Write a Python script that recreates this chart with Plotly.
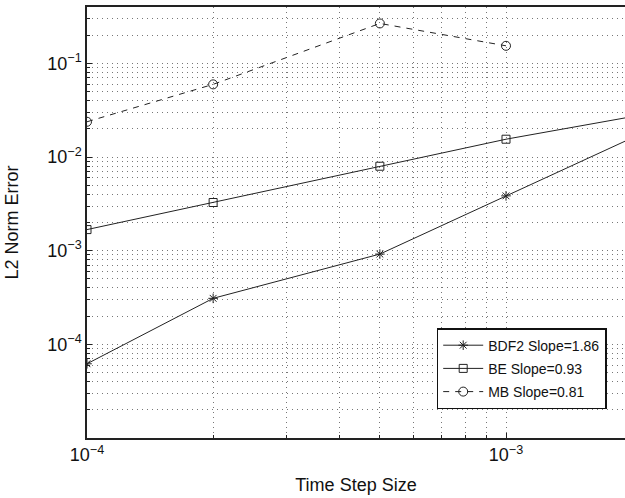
import numpy as np
import plotly.graph_objects as go

step = [1e-4, 2e-4, 5e-4, 1e-3, 2e-3]
bdf2 = [6.2e-5, 3.1e-4, 9.2e-4, 3.85e-3, 1.6e-2]
be = [1.68e-3, 3.27e-3, 7.98e-3, 1.55e-2, 2.7e-2]
mb_step = [1e-4, 2e-4, 5e-4, 1e-3]
mb = [2.38e-2, 5.97e-2, 0.267, 0.154]

x_major = [1e-4, 1e-3]
x_labels = ["10<sup>−4</sup>", "10<sup>−3</sup>"]
x_minor = [m * 10.0 ** e for e in (-4, -3) for m in range(2, 10)]
y_major = [1e-4, 1e-3, 1e-2, 1e-1]
y_labels = ["10<sup>−4</sup>", "10<sup>−3</sup>", "10<sup>−2</sup>", "10<sup>−1</sup>"]
y_minor = [m * 10.0 ** e for e in (-5, -4, -3, -2, -1) for m in range(2, 10)]

col = "#222222"
fig = go.Figure()
fig.add_trace(go.Scatter(x=step, y=bdf2, mode="lines+markers", name="BDF2 Slope=1.86",
                         legendgroup="a",
                         line=dict(color=col, width=1),
                         marker=dict(symbol="asterisk-open", size=8, color=col, line=dict(width=1, color=col))))
fig.add_trace(go.Scatter(x=step, y=be, mode="lines+markers", name="BE Slope=0.93",
                         legendgroup="b",
                         line=dict(color=col, width=1),
                         marker=dict(symbol="square-open", size=8, color=col, line=dict(width=1, color=col))))
fig.add_trace(go.Scatter(x=mb_step, y=mb, mode="lines+markers", name="MB Slope=0.81",
                         legendgroup="c",
                         line=dict(color=col, width=1, dash="6px,6px"),
                         marker=dict(symbol="circle-open", size=9, color=col, line=dict(width=1, color=col))))

font_family = "Liberation Sans, Arial, Helvetica, sans-serif"
grid = dict(showgrid=True, gridcolor="#777", griddash="1px,4px", gridwidth=1)
fig.update_layout(
    width=625, height=498,
    margin=dict(l=87, r=0, t=7, b=60),
    plot_bgcolor="white", paper_bgcolor="white",
    font=dict(family=font_family, color="#111", size=14),
    showlegend=True,
    legend=dict(x=0.65, y=0.255, xanchor="left", yanchor="top",
                bgcolor="white", bordercolor="#111", borderwidth=1.5,
                font=dict(size=14, family=font_family), tracegroupgap=2,
                itemwidth=40),
)
fig.update_xaxes(type="log", range=[-4, -4 + 538 / 419],
                 tickvals=x_major, ticktext=x_labels,
                 tickfont=dict(size=18), ticks="inside", ticklen=5, tickcolor="#222",
                 minor=dict(tickvals=x_minor, ticks="inside", ticklen=3, tickcolor="#222", **grid),
                 **grid,
                 showline=True, linecolor="#222", linewidth=1.5, mirror=True,
                 zeroline=False,
                 title=dict(text="Time Step Size", font=dict(size=18), standoff=14))
fig.update_yaxes(type="log", range=[-5.0, np.log10(0.4)],
                 tickvals=y_major, ticktext=y_labels,
                 tickfont=dict(size=18), ticks="inside", ticklen=5, tickcolor="#222",
                 minor=dict(tickvals=y_minor, ticks="inside", ticklen=3, tickcolor="#222", **grid),
                 **grid,
                 showline=True, linecolor="#222", linewidth=1.5, mirror=False,
                 zeroline=False,
                 title=dict(text="L2 Norm Error", font=dict(size=18), standoff=24))

fig.write_html("out.html")
